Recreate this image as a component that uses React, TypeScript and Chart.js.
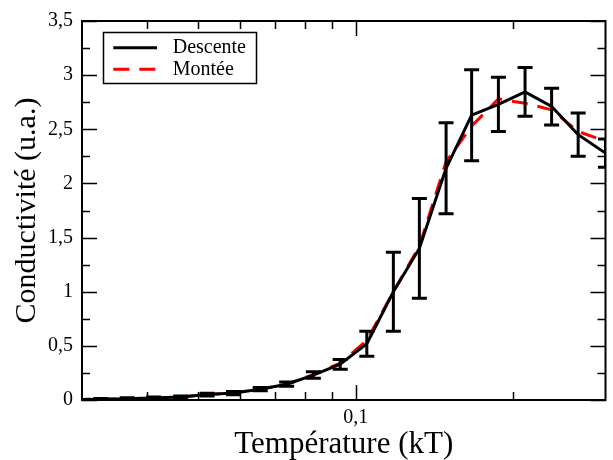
import React, { useEffect, useRef } from "react";
import { Chart, registerables } from "chart.js";

Chart.register(...registerables);

// ---- data ----
const temperatures = [0.029, 0.0326, 0.0366, 0.0411, 0.0463, 0.052, 0.0584, 0.0657, 0.0738, 0.083, 0.0934, 0.105, 0.118, 0.1323, 0.1488, 0.1665, 0.1873, 0.2106, 0.2367, 0.266, 0.3];
const descente = [0.004, 0.007, 0.012, 0.018, 0.027, 0.05, 0.064, 0.1, 0.146, 0.23, 0.33, 0.52, 1.0, 1.4, 2.14, 2.63, 2.73, 2.845, 2.71, 2.45, 2.28];
const descenteErr = [0.005, 0.006, 0.008, 0.01, 0.01, 0.013, 0.015, 0.015, 0.02, 0.03, 0.045, 0.115, 0.365, 0.46, 0.42, 0.42, 0.25, 0.225, 0.17, 0.2, 0.13];
const montee = [0.004, 0.007, 0.012, 0.018, 0.027, 0.05, 0.064, 0.1, 0.146, 0.235, 0.34, 0.55, 1.0, 1.42, 2.2, 2.53, 2.78, 2.74, 2.68, 2.48, 2.39];

const seriesLabels = ["Descente", "Montée"];
const xMajorTicks = [0.1];
const xMinorTicks = [0.04, 0.05, 0.06, 0.07, 0.08, 0.09, 0.2];
const xTickLabels: Record<string, string> = { "0.1": "0,1" };
const yMajorTicks = [0, 0.5, 1, 1.5, 2, 2.5, 3, 3.5];
const yMinorTicks = [0.25, 0.75, 1.25, 1.75, 2.25, 2.75, 3.25];

const FONT = "'Liberation Serif', 'Times New Roman', serif";

const decorPlugin = {
  id: "decor",
  afterDatasetsDraw(chart: any) {
    const { ctx, chartArea, scales } = chart;
    const { left, right, top, bottom } = chartArea;
    const x = scales.x;
    const y = scales.y;
    ctx.save();
    ctx.beginPath();
    ctx.rect(left, top, right - left, bottom - top);
    ctx.clip();
    ctx.strokeStyle = "#000";
    ctx.lineWidth = 3;
    ctx.lineCap = "butt";
    temperatures.forEach((t, i) => {
      const px = x.getPixelForValue(t);
      const hi = y.getPixelForValue(descente[i] + descenteErr[i]);
      const lo = y.getPixelForValue(descente[i] - descenteErr[i]);
      ctx.beginPath();
      ctx.moveTo(px, hi);
      ctx.lineTo(px, lo);
      ctx.moveTo(px - 7.5, hi);
      ctx.lineTo(px + 7.5, hi);
      ctx.moveTo(px - 7.5, lo);
      ctx.lineTo(px + 7.5, lo);
      ctx.stroke();
    });
    ctx.restore();
  },
  afterDraw(chart: any) {
    const { ctx, chartArea, scales } = chart;
    const { left, right, top, bottom } = chartArea;
    const x = scales.x;
    const y = scales.y;
    ctx.save();
    // tick marks (inward)
    ctx.strokeStyle = "#000";
    ctx.lineWidth = 1.5;
    const drawX = (v: number, len: number) => {
      const px = Math.round(x.getPixelForValue(v)) + 0.5;
      ctx.beginPath();
      ctx.moveTo(px, bottom);
      ctx.lineTo(px, bottom - len);
      ctx.moveTo(px, top);
      ctx.lineTo(px, top + len);
      ctx.stroke();
    };
    const drawY = (v: number, len: number) => {
      const py = Math.round(y.getPixelForValue(v)) + 0.5;
      ctx.beginPath();
      ctx.moveTo(left, py);
      ctx.lineTo(left + len, py);
      ctx.moveTo(right, py);
      ctx.lineTo(right - len, py);
      ctx.stroke();
    };
    xMajorTicks.forEach((v) => drawX(v, 15));
    xMinorTicks.forEach((v) => drawX(v, 8));
    yMajorTicks.forEach((v) => drawY(v, 15));
    yMinorTicks.forEach((v) => drawY(v, 8));
    // frame
    ctx.lineWidth = 2;
    ctx.strokeRect(left, top, right - left, bottom - top);

    // legend
    const bx = 103.5, by = 32.5, bw = 153, bh = 51;
    ctx.fillStyle = "#fff";
    ctx.fillRect(bx, by, bw, bh);
    ctx.lineWidth = 1.5;
    ctx.strokeStyle = "#000";
    ctx.strokeRect(bx, by, bw, bh);
    const rows = [47.7, 69.3];
    chart.data.datasets.forEach((ds: any, i: number) => {
      const ry = rows[i];
      ctx.beginPath();
      ctx.strokeStyle = ds.borderColor;
      ctx.lineWidth = ds.borderWidth;
      ctx.setLineDash(ds.borderDash || []);
      ctx.moveTo(113.3, ry);
      ctx.lineTo(157, ry);
      ctx.stroke();
      ctx.setLineDash([]);
      ctx.fillStyle = "#000";
      ctx.font = `20px ${FONT}`;
      ctx.textAlign = "left";
      ctx.textBaseline = "middle";
      ctx.fillText(ds.label, 172.7, ry);
    });
    ctx.restore();
  },
};

export default function App() {
  const ref = useRef<HTMLCanvasElement | null>(null);
  useEffect(() => {
    document.body.style.margin = "0";
    const canvas = ref.current;
    if (!canvas) return;
    const chart = new Chart(canvas, {
      type: "line",
      data: {
        labels: temperatures,
        datasets: [
          {
            label: seriesLabels[0],
            data: temperatures.map((t, i) => ({ x: t, y: descente[i] })),
            borderColor: "#000000",
            borderWidth: 3,
            pointRadius: 0,
            tension: 0,
            fill: false,
          },
          {
            label: seriesLabels[1],
            data: temperatures.map((t, i) => ({ x: t, y: montee[i] })),
            borderColor: "#ff0000",
            borderWidth: 3,
            borderDash: [16, 10],
            pointRadius: 0,
            tension: 0,
            fill: false,
          },
        ],
      },
      options: {
        animation: false,
        responsive: false,
        devicePixelRatio: 1,
        layout: { padding: { left: 0, top: 17.5, right: 7.5, bottom: 0 } },
        plugins: {
          legend: { display: false },
          tooltip: { enabled: false },
        },
        scales: {
          x: {
            type: "logarithmic",
            min: 0.03,
            max: 0.3,
            grid: { display: false, drawTicks: false },
            border: { display: false },
            ticks: {
              autoSkip: false,
              maxRotation: 0,
              padding: 5.5,
              color: "#000",
              font: { family: FONT, size: 20 },
              callback: (v: any) => {
                const key = String(Math.round(Number(v) * 1000) / 1000);
                return xTickLabels[key] ?? "";
              },
            },
            title: {
              display: true,
              text: "Température (kT)",
              color: "#000",
              font: { family: FONT, size: 31, lineHeight: 1 },
              padding: { top: 0, bottom: 0 },
            },
            afterFit: (s: any) => {
              s.height = 60;
            },
          },
          y: {
            type: "linear",
            min: 0,
            max: 3.5,
            grid: { display: false, drawTicks: false },
            border: { display: false },
            ticks: {
              stepSize: 0.5,
              padding: 9,
              color: "#000",
              font: { family: FONT, size: 20 },
              callback: (v: any) => String(v).replace(".", ","),
            },
            title: {
              display: true,
              text: "Conductivité (u.a.)",
              color: "#000",
              font: { family: FONT, size: 30, lineHeight: 1 },
              padding: { top: 12, bottom: 0 },
            },
            afterFit: (s: any) => {
              s.width = 82;
            },
          },
        },
      },
      plugins: [decorPlugin],
    } as any);
    return () => chart.destroy();
  }, []);
  return (
    <div style={{ width: 613, height: 460, background: "#fff" }}>
      <canvas ref={ref} width={613} height={460} style={{ display: "block" }} />
    </div>
  );
}
